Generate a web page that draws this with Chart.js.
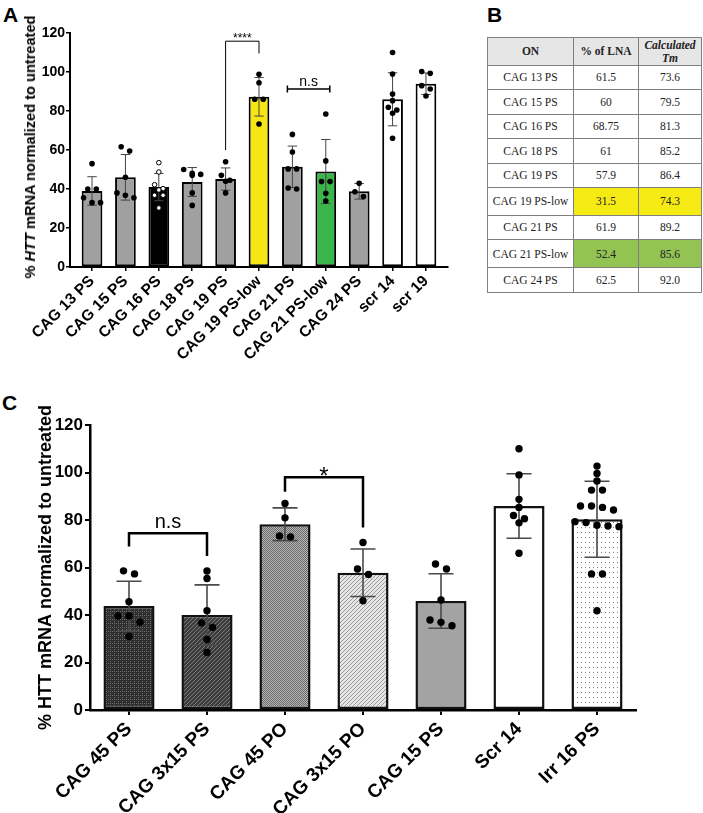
<!DOCTYPE html>
<html><head><meta charset="utf-8">
<script src="https://cdn.jsdelivr.net/npm/chart.js@4.4.1/dist/chart.umd.min.js"></script>
<style>
html,body{margin:0;padding:0;background:#fff;width:703px;height:813px;overflow:hidden;position:relative;}
.panel{position:absolute;font-family:"Liberation Sans",Arial,sans-serif;font-weight:bold;font-size:21px;color:#000;line-height:1;}
#cA{position:absolute;left:0;top:0;}
#cC{position:absolute;left:0;top:375px;}
#titleA{position:absolute;left:30px;top:147px;transform:translate(-50%,-50%) rotate(-90deg);white-space:nowrap;font-family:"Liberation Sans",Arial,sans-serif;font-weight:bold;font-size:14.6px;color:#000;}
#tbl{position:absolute;left:487px;top:37px;border-collapse:collapse;font-family:"Liberation Serif","Times New Roman",serif;font-size:11.5px;color:#222;table-layout:fixed;}
#tbl td,#tbl th{border:1px solid #808080;text-align:center;padding:0;line-height:1.1;}
#tbl th{background:#e7e6e6;font-weight:bold;height:27px;}
#tbl td{height:23.4px;}
#tbl tr.tall td{height:27px;}
</style></head><body>
<div class="panel" style="left:3px;top:4px">A</div>
<div class="panel" style="left:487px;top:4px">B</div>
<div class="panel" style="left:2px;top:392px">C</div>
<canvas id="cA" width="460" height="372"></canvas>
<div id="titleA">% <i>HTT</i> mRNA normalized to untreated</div>
<table id="tbl"></table>
<canvas id="cC" width="703" height="438"></canvas>
<script>
// ---------- Panel A data ----------
const categoriesA = ['CAG 13 PS','CAG 15 PS','CAG 16 PS','CAG 18 PS','CAG 19 PS','CAG 19 PS-low','CAG 21 PS','CAG 21 PS-low','CAG 24 PS','scr 14','scr 19'];
const meansA = [39, 46, 41, 43.6, 45.1, 87.3, 51.4, 49, 38.8, 86, 94];
const sdA = [7.3, 11.7, 7, 7.4, 5.7, 9.9, 10.6, 16.4, 4, 13.6, 5.5];
const pointsA = [
  [53, 40, 40, 35.5, 33, 33],
  [61.7, 59.5, 46, 38, 36.8, 35.5],
  [53.5, 48.7, 42.2, 40.2, 39.5, 36.8, 36.8, 30.3],
  [50, 48, 47.5, 47, 38, 31.6],
  [54, 47, 44.5, 44, 38],
  [98.8, 94.5, 86, 86, 73.3],
  [68, 59, 50.3, 50.3, 40.5, 40],
  [78.5, 54.4, 43.8, 43.8, 37.8, 33.8],
  [42.9, 38.6, 36.1],
  [110, 99, 88.7, 85.3, 81.9, 80.5, 78.8, 66],
  [100.2, 99.3, 93, 91.3, 87.7]
];
const ticksY = [0, 20, 40, 60, 80, 100, 120];

// ---------- Panel B data ----------
const tableHeader = ['ON', '% of LNA', 'Calculated Tm'];
const tableON = ['CAG 13 PS','CAG 15 PS','CAG 16 PS','CAG 18 PS','CAG 19 PS','CAG 19 PS-low','CAG 21 PS','CAG 21 PS-low','CAG 24 PS'];
const tableLNA = ['61.5','60','68.75','61','57.9','31.5','61.9','52.4','62.5'];
const tableTm = ['73.6','79.5','81.3','85.2','86.4','74.3','89.2','85.6','92.0'];

// ---------- Panel C data ----------
const categoriesC = ['CAG 45 PS','CAG 3x15 PS','CAG 45 PO','CAG 3x15 PO','CAG 15 PS','Scr 14','Irr 16 PS'];
const meansC = [43.8, 40, 78.2, 57.8, 45.9, 85.9, 80.3];
const sdC = [10.4, 12.7, 6.9, 10, 11.5, 13.6, 16];
const pointsC = [
  [58.6, 57.3, 45.6, 39.6, 39.6, 37, 31],
  [58.5, 55.4, 41.8, 36.7, 34.8, 29.7, 24.2],
  [87, 80.9, 73.3, 72.9],
  [70.5, 59.4, 57.1, 46],
  [61.5, 59.4, 46.3, 37.9, 36.9, 35.5],
  [110, 99, 88.7, 85.3, 81.9, 80.5, 78.8, 66],
  [102.7, 99.6, 96.4, 92.6, 92.6, 85.9, 85.9, 85.3, 84.2, 79.3, 78.9, 77.8, 77.5, 77.2, 57.3, 57.3, 41.8]
];

// ---------- table ----------
(function(){
  const t = document.getElementById('tbl');
  const widths = [86, 65, 63];
  let h = '<colgroup>' + widths.map(w => '<col style="width:' + w + 'px">').join('') + '</colgroup>';
  h += '<tr><th>' + tableHeader[0] + '</th><th>' + tableHeader[1] + '</th><th><i>Calculated<br>' + tableHeader[2].split(' ')[1] + '</i></th></tr>';
  tableON.forEach((name, i) => {
    const low = name.indexOf('-low') >= 0;
    const bg = name === 'CAG 19 PS-low' ? '#f5ea14' : (name === 'CAG 21 PS-low' ? '#92c353' : '');
    const st = bg ? ' style="background:' + bg + '"' : '';
    h += '<tr' + (low ? ' class="tall"' : '') + '><td>' + name + '</td><td' + st + '>' + tableLNA[i] + '</td><td' + st + '>' + tableTm[i] + '</td></tr>';
  });
  t.innerHTML = h;
})();

// ---------- helpers ----------
const FAM = '"Liberation Sans", Arial, sans-serif';
function makePattern(w, h, draw) {
  const c = document.createElement('canvas'); c.width = w; c.height = h;
  const x = c.getContext('2d'); draw(x, w, h);
  return x.createPattern(c, 'repeat');
}
function swarm(ys, diam, step) {
  const idx = ys.map((y, i) => i).sort((a, b) => ys[a] - ys[b]);
  const offs = new Array(ys.length).fill(0);
  let row = [];
  const flush = () => {
    const k = row.length;
    row.forEach((id, j) => { offs[id] = (j - (k - 1) / 2) * step; });
    row = [];
  };
  idx.forEach(id => {
    if (row.length && Math.abs(ys[id] - ys[row[0]]) >= diam * 0.9) flush();
    row.push(id);
  });
  flush();
  return offs;
}

const overlayPlugin = {
  id: 'overlay',
  afterDatasetsDraw(chart, args, o) {
    const ctx = chart.ctx, xs = chart.scales.x, ys = chart.scales.y;
    ctx.save();
    o.means.forEach((m, i) => {
      const x = xs.getPixelForValue(i);
      const yT = ys.getPixelForValue(m + o.sds[i]);
      const yB = ys.getPixelForValue(m - o.sds[i]);
      ctx.strokeStyle = o.errColor; ctx.lineWidth = o.errWidth;
      ctx.beginPath();
      ctx.moveTo(x, yT); ctx.lineTo(x, yB);
      ctx.moveTo(x - o.cap, yT); ctx.lineTo(x + o.cap, yT);
      ctx.moveTo(x - o.cap, yB); ctx.lineTo(x + o.cap, yB);
      ctx.stroke();
    });
    o.points.forEach((pts, i) => {
      const x = xs.getPixelForValue(i);
      const py = pts.map(v => ys.getPixelForValue(v));
      const offs = swarm(py, o.r * 2, o.step);
      const open = o.open && o.open.indexOf(i) >= 0;
      pts.forEach((v, j) => {
        ctx.beginPath();
        ctx.arc(x + offs[j], py[j], open ? o.r - 0.5 : o.r, 0, Math.PI * 2);
        ctx.fillStyle = open ? '#fff' : '#000';
        ctx.fill();
        if (open) { ctx.strokeStyle = '#000'; ctx.lineWidth = 1; ctx.stroke(); }
      });
    });
    (o.brackets || []).forEach(b => {
      const x1 = xs.getPixelForValue(b.from), x2 = xs.getPixelForValue(b.to);
      const y = ys.getPixelForValue(b.y);
      ctx.strokeStyle = '#000'; ctx.lineWidth = b.lw;
      ctx.beginPath();
      if (b.cap) {
        ctx.moveTo(x1, y); ctx.lineTo(x2, y);
        ctx.moveTo(x1, y - b.cap); ctx.lineTo(x1, y + b.cap);
        ctx.moveTo(x2, y - b.cap); ctx.lineTo(x2, y + b.cap);
      } else {
        ctx.moveTo(x1, ys.getPixelForValue(b.left)); ctx.lineTo(x1, y);
        ctx.lineTo(x2, y); ctx.lineTo(x2, ys.getPixelForValue(b.right));
      }
      ctx.stroke();
      ctx.fillStyle = '#000'; ctx.font = b.font; ctx.textAlign = 'center'; ctx.textBaseline = 'alphabetic';
      ctx.fillText(b.text, (x1 + x2) / 2, y + b.dy);
    });
    ctx.restore();
  }
};

// ---------- Chart A ----------
const colorsA = ['#a0a0a0','#a0a0a0','#000000','#a0a0a0','#a0a0a0','#f5e614','#a0a0a0','#3ab54a','#a0a0a0','#ffffff','#ffffff'];
new Chart(document.getElementById('cA'), {
  type: 'bar',
  data: { datasets: [{
    data: meansA.map((v, i) => ({ x: i, y: v })),
    backgroundColor: colorsA, borderColor: '#000', borderWidth: 2, borderSkipped: false,
    barPercentage: 0.62, categoryPercentage: 1
  }]},
  options: {
    responsive: false, animation: false, devicePixelRatio: 1,
    layout: { padding: { left: 0, right: 12, top: 33, bottom: 0 } },
    plugins: {
      legend: { display: false }, tooltip: { enabled: false },
      overlay: {
        means: meansA, sds: sdA, points: pointsA, open: [2],
        errColor: '#444', errWidth: 1, cap: 4.7, r: 2.8, step: 8.5,
        brackets: [
          { from: 4, to: 5, y: 115.8, left: 60, right: 109.5, lw: 1, text: '****', font: '12px ' + FAM, dy: 0.5 },
          { from: 5.85, to: 7.12, y: 91.3, cap: 3.5, lw: 1.5, text: 'n.s', font: '14px ' + FAM, dy: -3 }
        ]
      }
    },
    scales: {
      x: {
        type: 'linear', min: -0.66, max: 10.66, offset: false,
        afterBuildTicks: s => { s.ticks = categoriesA.map((_, i) => ({ value: i })); },
        afterFit: s => { s.height = 105; },
        ticks: { autoSkip: false, minRotation: 45, maxRotation: 45, padding: 1, color: '#000',
                 font: { family: FAM, size: 15.5, weight: 'bold' },
                 callback: v => categoriesA[v] },
        grid: { offset: false, drawOnChartArea: false, drawTicks: true, tickLength: 4, color: '#000', lineWidth: 1.5 },
        border: { color: '#000', width: 2 }
      },
      y: {
        min: 0, max: 120,
        afterBuildTicks: s => { s.ticks = ticksY.map(v => ({ value: v })); },
        afterFit: s => { s.width = 70; },
        ticks: { padding: 1, color: '#000', font: { family: FAM, size: 14, weight: 'bold' } },
        grid: { drawOnChartArea: false, drawTicks: true, tickLength: 4, color: '#000', lineWidth: 1.5 },
        border: { color: '#000', width: 2 }
      }
    }
  },
  plugins: [overlayPlugin]
});

// ---------- Chart C ----------
const fillsC = [
  makePattern(4, 4, (x) => { x.fillStyle = '#2e2e2e'; x.fillRect(0,0,4,4); x.fillStyle = '#6e6e6e'; x.fillRect(0,0,1,1); x.fillRect(2,2,1,1); x.fillRect(2,0,1,1); }),
  makePattern(4, 4, (x) => { x.fillStyle = '#3c3c3c'; x.fillRect(0,0,4,4); x.fillStyle = '#7c7c7c'; x.fillRect(3,0,1,1); x.fillRect(2,1,1,1); x.fillRect(1,2,1,1); x.fillRect(0,3,1,1); }),
  makePattern(2, 2, (x) => { x.fillStyle = '#6c6c6c'; x.fillRect(0,0,2,2); x.fillStyle = '#b4b4b4'; x.fillRect(0,0,1,1); x.fillRect(1,1,1,1); }),
  makePattern(4, 4, (x) => { x.fillStyle = '#e6e6e6'; x.fillRect(0,0,4,4); x.fillStyle = '#9a9a9a'; x.fillRect(3,0,1,1); x.fillRect(2,1,1,1); x.fillRect(1,2,1,1); x.fillRect(0,3,1,1); }),
  '#a3a3a3',
  '#ffffff',
  makePattern(4, 5, (x) => { x.fillStyle = '#ffffff'; x.fillRect(0,0,4,5); x.fillStyle = '#808080'; x.fillRect(1,2,1,1); })
];
new Chart(document.getElementById('cC'), {
  type: 'bar',
  data: { labels: categoriesC, datasets: [{
    data: meansC, backgroundColor: fillsC, borderColor: '#111', borderWidth: 2.5, borderSkipped: false,
    barPercentage: 0.655, categoryPercentage: 1
  }]},
  options: {
    responsive: false, animation: false, devicePixelRatio: 1,
    layout: { padding: { left: 0, right: 67, top: 50, bottom: 0 } },
    plugins: {
      legend: { display: false }, tooltip: { enabled: false },
      overlay: {
        means: meansC, sds: sdC, points: pointsC,
        errColor: '#4a4a4a', errWidth: 1.6, cap: 12.5, r: 3.7, step: 11,
        brackets: [
          { from: 0, to: 1, y: 74.4, left: 68.8, right: 64.8, lw: 2.5, text: 'n.s', font: '20px ' + FAM, dy: -5.5 },
          { from: 2, to: 3, y: 98, left: 91.9, right: 76.8, lw: 2.5, text: '*', font: '24px ' + FAM, dy: 7 }
        ]
      }
    },
    scales: {
      x: {
        offset: true,
        afterFit: s => { s.height = 103; },
        ticks: { autoSkip: false, minRotation: 45, maxRotation: 45, padding: 3, color: '#000',
                 font: { family: FAM, size: 19, weight: 'bold' } },
        grid: { offset: false, drawOnChartArea: false, drawTicks: true, tickLength: 5, color: '#000', lineWidth: 2 },
        border: { color: '#000', width: 2.5 }
      },
      y: {
        min: 0, max: 120,
        afterBuildTicks: s => { s.ticks = ticksY.map(v => ({ value: v })); },
        afterFit: s => { s.width = 90; },
        title: { display: true, text: '% HTT mRNA normalized to untreated', color: '#000',
                 font: { family: FAM, size: 18, weight: 'bold' }, padding: { top: 35, bottom: 0 } },
        ticks: { padding: 2, color: '#000', font: { family: FAM, size: 17, weight: 'bold' } },
        grid: { drawOnChartArea: false, drawTicks: true, tickLength: 5, color: '#000', lineWidth: 2 },
        border: { color: '#000', width: 2.5 }
      }
    }
  },
  plugins: [overlayPlugin]
});
</script>
</body></html>
